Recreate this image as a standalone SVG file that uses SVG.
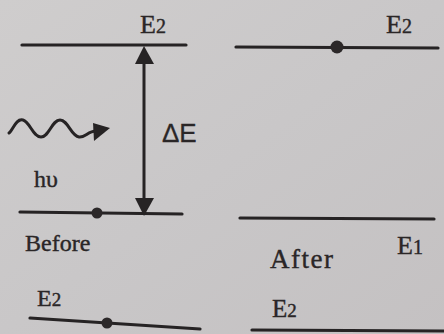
<svg xmlns="http://www.w3.org/2000/svg" width="444" height="334" viewBox="0 0 444 334">
<defs>
<style>
.lvl{stroke:#262324;stroke-width:3.2;fill:none;stroke-linecap:round}
.dot{fill:#2c2829}
.t{font-family:"Liberation Serif","DejaVu Serif",serif;fill:#2a2627;stroke:#2a2627;stroke-width:0.4}
.s{font-family:"Liberation Sans","DejaVu Sans",sans-serif;fill:#2a2627;stroke:#2a2627;stroke-width:0.3}
.ar{fill:#262324}
</style>
<linearGradient id="bg" x1="0" y1="0" x2="1" y2="1">
<stop offset="0" stop-color="#cfcdcd"/>
<stop offset="0.5" stop-color="#c9c7c8"/>
<stop offset="1" stop-color="#c4c1c2"/>
</linearGradient>
</defs>
<rect width="444" height="334" fill="url(#bg)"/>
<g id="before-E2">
<line class="lvl" x1="22" y1="45" x2="186" y2="45"/>
<text class="t" x="140" y="33" font-size="26">E<tspan font-size="20">2</tspan></text>
</g>
<g id="before-E1">
<line class="lvl" x1="20" y1="212" x2="182" y2="214"/>
<circle class="dot" cx="97" cy="213" r="5.5"/>
<text class="t" x="25" y="251" font-size="24">Before</text>
</g>
<g id="photon">
<path d="M9,133 C13,130 16,118 23,120 C30,122 33,137 41,137 C49,137 52,120 60,120 C68,120 71,136 79,137 C85,138 88,131 96,131" stroke="#262324" stroke-width="3" fill="none" stroke-linecap="round"/>
<polygon class="ar" points="93,123 110,128 94,141"/>
<text class="t" x="34" y="187" font-size="24">hυ</text>
</g>
<g id="connectors">
<line x1="144" y1="58" x2="144" y2="202" stroke="#262324" stroke-width="3"/>
<polygon class="ar" points="144,46 154,64 135,64"/>
<polygon class="ar" points="144,216 135,198 154,198"/>
<text class="s" x="162" y="142" font-size="26">ΔE</text>
</g>
<g id="after-E2">
<line class="lvl" x1="236" y1="47" x2="438" y2="48"/>
<circle class="dot" cx="337" cy="47" r="6.5"/>
<text class="t" x="386" y="33" font-size="26">E<tspan font-size="20">2</tspan></text>
</g>
<g id="after-E1">
<line class="lvl" x1="240" y1="218" x2="434" y2="219"/>
<text class="t" x="270" y="268" font-size="27" letter-spacing="1.5">After</text>
<text class="t" x="397" y="254" font-size="26">E<tspan font-size="20">1</tspan></text>
</g>
<g id="bottom-left-E2">
<text class="t" x="37" y="306" font-size="24">E<tspan font-size="19">2</tspan></text>
<line class="lvl" x1="30" y1="318" x2="200" y2="329"/>
<circle class="dot" cx="107" cy="323" r="5.5"/>
</g>
<g id="bottom-right-E2">
<text class="t" x="272" y="317" font-size="25">E<tspan font-size="19">2</tspan></text>
<line class="lvl" x1="252" y1="330" x2="444" y2="331"/>
</g>
</svg>
